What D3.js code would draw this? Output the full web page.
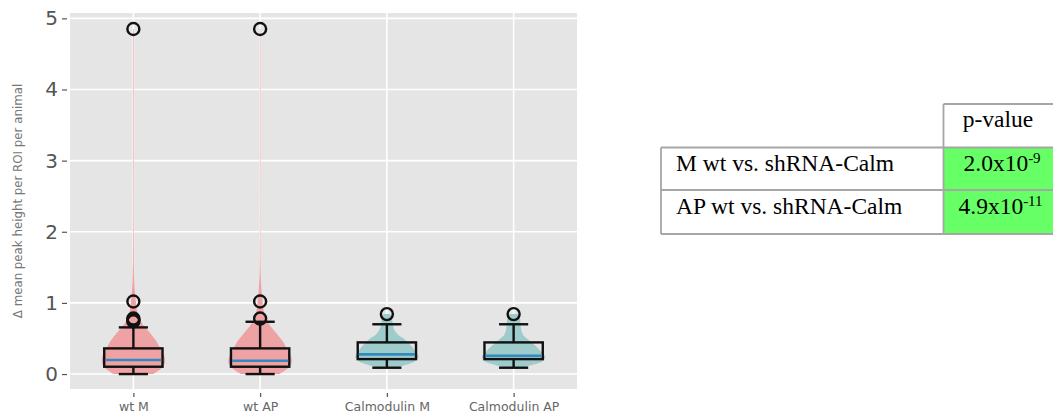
<!DOCTYPE html>
<html>
<head>
<meta charset="utf-8">
<script src="https://cdn.jsdelivr.net/npm/d3@7"></script>
<style>
  body { margin: 0; background: #fff; }
  svg { display: block; }
</style>
</head>
<body>
<div id="chart"></div>
<script>
// groups and box statistics
var groups = ['wt M', 'wt AP', 'Calmodulin M', 'Calmodulin AP'];
var q1 = [0.103, 0.103, 0.21, 0.21];
var medians = [0.197, 0.187, 0.277, 0.257];
var q3 = [0.361, 0.361, 0.445, 0.445];
var whiskerLow = [0.0, 0.0, 0.089, 0.089];
var whiskerHigh = [0.656, 0.735, 0.70, 0.70];
var outliers = [[4.85, 1.02, 0.78, 0.76, 0.74], [4.85, 1.02, 0.78], [0.843], [0.843]];

// violin profiles (relative density at each level)
var wtLevels = [0, 0.05, 0.1, 0.15, 0.2, 0.25, 0.3, 0.36, 0.45, 0.525, 0.6, 0.665, 0.72, 0.78, 0.9, 1.0, 1.1, 1.2, 1.4, 2, 3, 4, 4.85];
var wtMDensity = [0.62, 0.8, 0.93, 0.99, 1.0, 0.98, 0.93, 0.85, 0.74, 0.62, 0.48, 0.35, 0.26, 0.18, 0.11, 0.08, 0.06, 0.04, 0.02, 0.01, 0.01, 0.01, 0.01];
var wtAPDensity = [0.6, 0.79, 0.92, 0.99, 1.0, 0.97, 0.92, 0.84, 0.73, 0.6, 0.46, 0.34, 0.26, 0.19, 0.11, 0.08, 0.06, 0.04, 0.02, 0.01, 0.01, 0.01, 0.01];
var calmLevels = [0.089, 0.13, 0.17, 0.21, 0.243, 0.3, 0.36, 0.43, 0.5, 0.55, 0.6, 0.65, 0.7, 0.75, 0.8, 0.843];
var calmMDensity = [0.3, 0.6, 0.85, 0.96, 1.0, 0.93, 0.84, 0.7, 0.53, 0.36, 0.26, 0.21, 0.19, 0.17, 0.15, 0.1];
var calmAPDensity = [0.3, 0.6, 0.88, 0.98, 1.0, 0.9, 0.78, 0.6, 0.42, 0.3, 0.25, 0.23, 0.22, 0.21, 0.19, 0.12];

var violinLevels = [wtLevels, wtLevels, calmLevels, calmLevels];
var violinDensity = [wtMDensity, wtAPDensity, calmMDensity, calmAPDensity];
var violinColors = ['#eea2a3', '#eea2a3', '#9ecccc', '#9ecccc'];

var yTicks = [0, 1, 2, 3, 4, 5];

// table
var tableHeader = 'p-value';
var tableRows = ['M wt vs. shRNA-Calm', 'AP wt vs. shRNA-Calm'];
var pMantissa = ['2.0x10', '4.9x10'];
var pExponent = ['-9', '-11'];

var W = 1053, H = 419;
var plot = { left: 70, right: 577, top: 13, bottom: 389 };

var svg = d3.select('#chart').append('svg')
	.attr('width', W)
	.attr('height', H);

var x = d3.scaleLinear().domain([0.5, 4.5]).range([plot.left, plot.right]);
var y = d3.scaleLinear().domain([-0.21, 5.075]).range([plot.bottom, plot.top]);
var step = x(2) - x(1);

// background
svg.append('rect')
	.attr('x', plot.left).attr('y', plot.top)
	.attr('width', plot.right - plot.left)
	.attr('height', plot.bottom - plot.top)
	.attr('fill', '#e5e5e5');

// grid
var grid = svg.append('g').attr('stroke', '#fff').attr('stroke-width', 1.6);
grid.selectAll('line.h').data(yTicks).enter().append('line')
	.attr('x1', plot.left).attr('x2', plot.right)
	.attr('y1', d => y(d)).attr('y2', d => y(d));
grid.selectAll('line.v').data(groups).enter().append('line')
	.attr('y1', plot.top).attr('y2', plot.bottom)
	.attr('x1', (d, i) => x(i + 1)).attr('x2', (d, i) => x(i + 1));

// y axis
var yAxis = d3.axisLeft(y).tickValues(yTicks).tickSize(5).tickPadding(4).tickFormat(d3.format('d'));
var gy = svg.append('g')
	.attr('transform', 'translate(' + (plot.left - 3) + ',0)')
	.call(yAxis);
gy.select('.domain').remove();
gy.selectAll('line').attr('stroke', '#555').attr('stroke-width', 1.2);
gy.selectAll('text').attr('fill', '#555').style('font-family', 'DejaVu Sans').style('font-size', '20px');

// x axis
var xAxis = d3.axisBottom(x).tickValues([1, 2, 3, 4]).tickSize(4).tickPadding(5).tickFormat((d, i) => groups[i]);
var gx = svg.append('g')
	.attr('transform', 'translate(0,' + (plot.bottom + 4) + ')')
	.call(xAxis);
gx.select('.domain').remove();
gx.selectAll('line').attr('stroke', '#555').attr('stroke-width', 1.2);
gx.selectAll('text').attr('fill', '#666').style('font-family', 'DejaVu Sans').style('font-size', '12.5px');

// y label
svg.append('text')
	.attr('transform', 'translate(22,' + ((plot.top + plot.bottom) / 2) + ') rotate(-90)')
	.attr('text-anchor', 'middle')
	.attr('fill', '#777')
	.style('font-family', 'DejaVu Sans')
	.style('font-size', '11.8px')
	.text('\u0394 mean peak height per ROI per animal');

// violins
groups.forEach(function (g, i) {
	var pts = violinLevels[i].map((v, j) => ({ v: v, d: violinDensity[i][j] }));
	var cx = x(i + 1);
	var area = d3.area()
		.y(d => y(d.v))
		.x0(d => cx - 0.25 * step * d.d)
		.x1(d => cx + 0.25 * step * d.d)
		.curve(d3.curveCatmullRom);
	svg.append('path')
		.datum(pts)
		.attr('d', area)
		.attr('fill', violinColors[i]);
});

// boxes
var boxW = 0.46 * step;
var boxes = svg.append('g').attr('stroke', '#111').attr('stroke-width', 2.4).attr('fill', 'none');
groups.forEach(function (g, i) {
	var cx = x(i + 1);
	var b = boxes.append('g');
	b.append('line').attr('x1', cx).attr('x2', cx).attr('y1', y(whiskerLow[i])).attr('y2', y(q1[i]));
	b.append('line').attr('x1', cx).attr('x2', cx).attr('y1', y(q3[i])).attr('y2', y(whiskerHigh[i]));
	b.append('line').attr('x1', cx - boxW / 4).attr('x2', cx + boxW / 4).attr('y1', y(whiskerLow[i])).attr('y2', y(whiskerLow[i]));
	b.append('line').attr('x1', cx - boxW / 4).attr('x2', cx + boxW / 4).attr('y1', y(whiskerHigh[i])).attr('y2', y(whiskerHigh[i]));
	b.append('rect')
		.attr('x', cx - boxW / 2).attr('width', boxW)
		.attr('y', y(q3[i])).attr('height', y(q1[i]) - y(q3[i]));
	b.append('line')
		.attr('x1', cx - boxW / 2 + 1).attr('x2', cx + boxW / 2 - 1)
		.attr('y1', y(medians[i])).attr('y2', y(medians[i]))
		.attr('stroke', '#348ABD').attr('stroke-width', 2.6);
	b.selectAll('circle').data(outliers[i]).enter().append('circle')
		.attr('cx', cx).attr('cy', d => y(d)).attr('r', 6);
});

// table
var tb = svg.append('g').style('font-family', 'Liberation Serif, Times New Roman, serif').style('font-size', '23.5px').attr('fill', '#000');
var colX = 943.5, leftX = 661, rightX = 1070;
var rowY = [104, 147.5, 190, 234];
tb.selectAll('rect.p').data(tableRows).enter().append('rect')
	.attr('x', colX).attr('width', rightX - colX)
	.attr('y', (d, i) => rowY[i + 1]).attr('height', (d, i) => rowY[i + 2] - rowY[i + 1])
	.attr('fill', '#66ff66');
var borders = tb.append('g').attr('stroke', '#a6a6a6').attr('stroke-width', 1.8).attr('fill', 'none');
borders.append('line').attr('x1', colX).attr('x2', rightX).attr('y1', rowY[0]).attr('y2', rowY[0]);
borders.append('line').attr('x1', colX).attr('x2', colX).attr('y1', rowY[0]).attr('y2', rowY[3]);
borders.append('line').attr('x1', leftX).attr('x2', leftX).attr('y1', rowY[1]).attr('y2', rowY[3]);
[1, 2, 3].forEach(function (k) {
	borders.append('line').attr('x1', leftX).attr('x2', rightX).attr('y1', rowY[k]).attr('y2', rowY[k]);
});
tb.append('text').attr('x', 998).attr('y', 127).attr('text-anchor', 'middle').text(tableHeader);
tb.selectAll('text.r').data(tableRows).enter().append('text')
	.attr('x', 676).attr('y', (d, i) => [171, 214][i]).text(d => d);
tableRows.forEach(function (r, i) {
	var t = tb.append('text').attr('x', [963.5, 958.5][i]).attr('y', [171, 214][i]);
	t.append('tspan').text(pMantissa[i]);
	t.append('tspan').attr('dy', -8).style('font-size', '15px').text(pExponent[i]);
});
</script>
</body>
</html>
